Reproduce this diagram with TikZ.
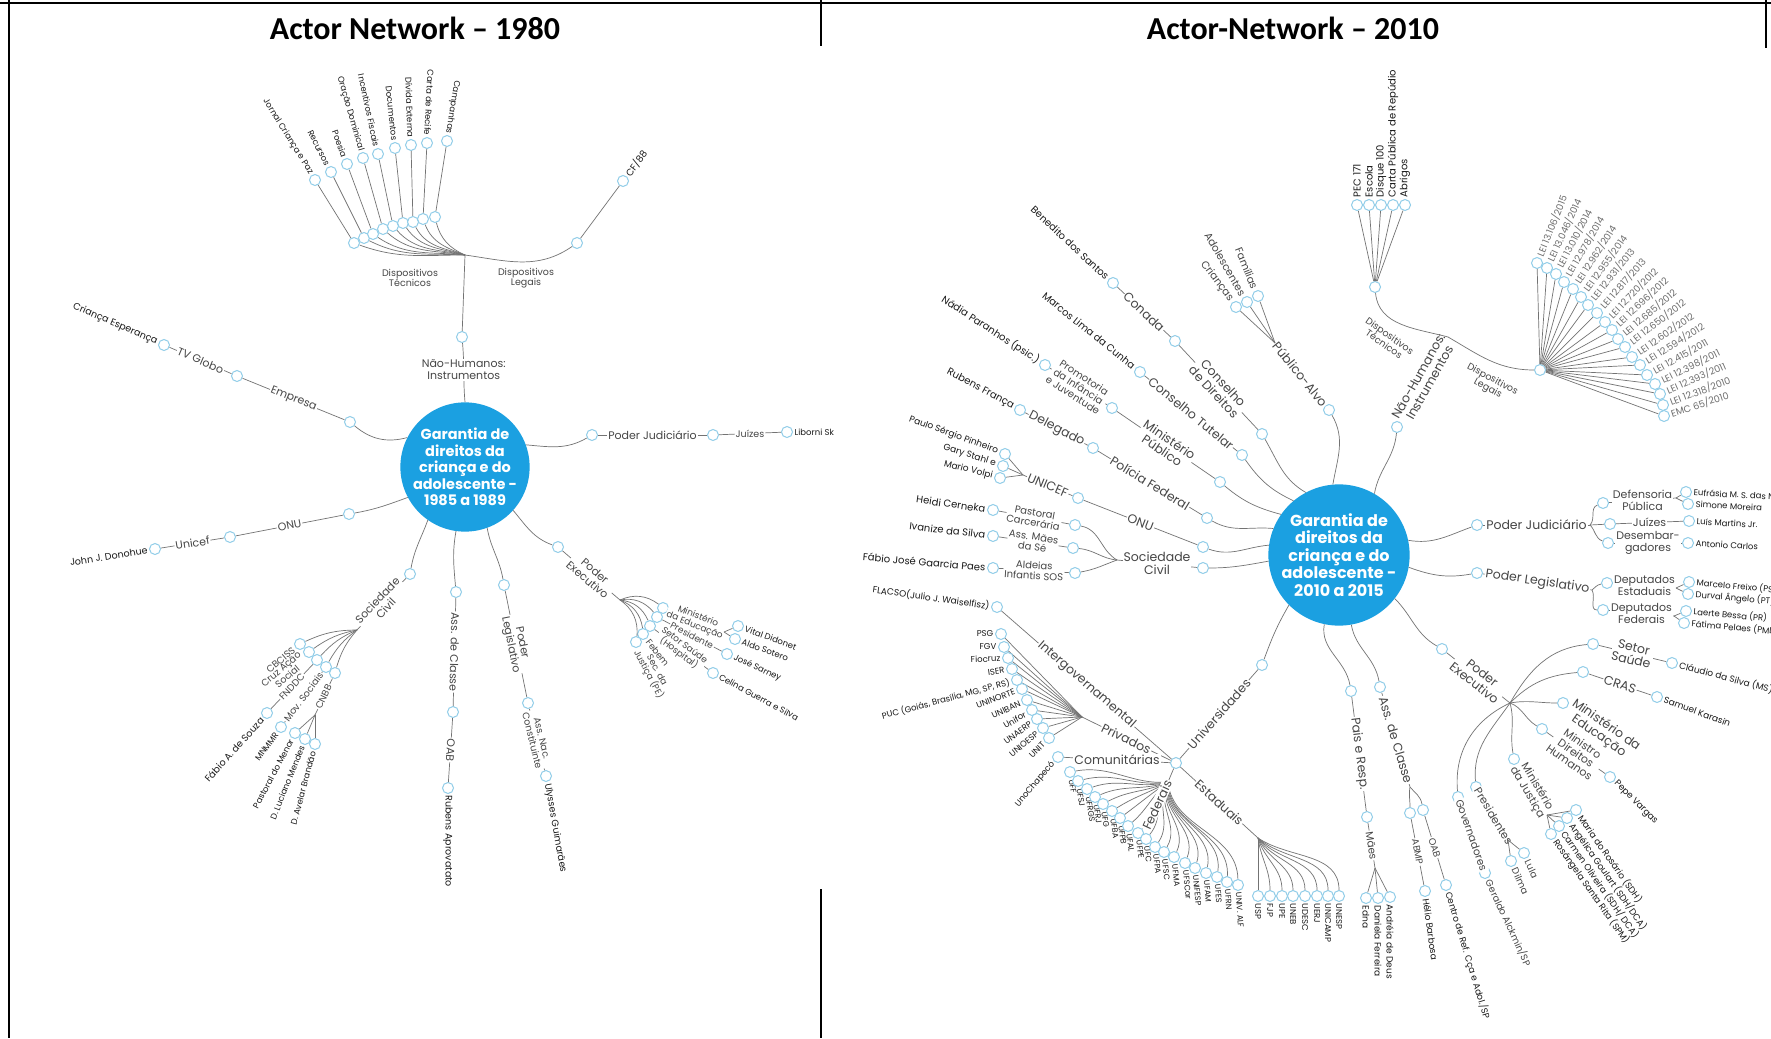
\documentclass[tikz,border=0pt]{standalone}
\usepackage{fontspec}
\usetikzlibrary{calc}
\newfontfamily\gothic{Poppins}
\newfontfamily\hdrfont{Carlito}
\definecolor{corec}{RGB}{27,160,225}
\definecolor{dotc}{RGB}{145,205,232}
\definecolor{linec}{RGB}{115,115,115}
\definecolor{labc}{RGB}{70,70,70}
\definecolor{leafc}{RGB}{25,25,25}
\definecolor{lawc}{RGB}{110,110,110}
\tikzset{
  dot/.style={circle,draw=dotc,fill=white,line width=1pt,minimum size=11pt,inner sep=0pt},
  ln/.style={draw=linec,line width=0.7pt},
  lbl/.style={font=\gothic\fontsize{11}{11.5}\selectfont,text=labc,fill=white,inner sep=1pt,align=center},
  lblr/.style={lbl,font=\gothic\fontsize{12.5}{13}\selectfont},
  lbls/.style={lbl,font=\gothic\fontsize{9.5}{10}\selectfont,fill=none},
  leaf/.style={font=\gothic\fontsize{9.5}{10}\selectfont,text=leafc,inner sep=0.5pt,align=center},
  leafr/.style={font=\gothic\fontsize{10}{10.5}\selectfont,text=leafc,inner sep=0.5pt,align=center},
  uni/.style={font=\gothic\fontsize{8.5}{9}\selectfont,text=leafc,inner sep=0.5pt},
  tiny/.style={font=\gothic\fontsize{9.5}{10}\selectfont,text=lawc,inner sep=0.5pt},
  core/.style={circle,fill=corec,text=white,align=center,inner sep=0pt},
  hdr/.style={font=\hdrfont\bfseries\fontsize{32}{34}\selectfont,inner sep=0pt},
  framerule/.style={draw=black,line width=1.4pt},
}
% label reading away from a dot / label reading towards a dot
\newcommand\lout[4][]{\node[leaf,rotate=#3,anchor=west,#1] (#2-t) at ($(#2)+(#3:7)$) {#4};}
\newcommand\lin[4][]{\node[leaf,rotate=#3,anchor=east,#1] (#2-t) at ($(#2)+({#3+180}:7)$) {#4};}

\begin{document}
\begin{tikzpicture}[x=1pt,y=1pt]
\useasboundingbox (0,0) rectangle (1771,-1038);
\fill[white] (0,0) rectangle (1771,-1038);

% ---------------- table frame and headings ----------------
\draw[framerule,line width=2pt] (0,-3) -- (1771,-3);
\draw[framerule] (9,0) -- (9,-1038);
\draw[framerule] (821,0) -- (821,-46);
\draw[framerule] (821,-889) -- (821,-1038);
\draw[framerule] (1766,0) -- (1766,-48);
\node[hdr] (h1) at (415,-28) {Actor Network – 1980};
\node[hdr] (h2) at (1293,-28) {Actor-Network – 2010};

% =================== 1985-1989 network ===================
\node[core,minimum size=120pt,font=\gothic\bfseries\fontsize{14.5}{16.4}\selectfont] (L) at (465,-467) {Garantia de\\direitos da\\criança e do\\adolescente -\\1985 a 1989};

% non-human instruments
\node[dot] (lnh) at (462,-337) {};
\draw[ln] (L.90) to[out=95,in=-85] node[lbl,pos=0.55] (lnh-e) {Não-Humanos:\\Instrumentos} (lnh);
\coordinate (lTH) at (465,-255);
\draw[ln] (lnh) -- (lTH);
\foreach \i/\ix/\iy/\ox/\oy/\ang/\txt in {
  1/354/243/315/180/-58/{Jornal Criança e Paz},
  2/364/238/331/172/-63/Recursos,
  3/373/234/347/164/-70/Poesia,
  4/383/229/363/158/-74/{Oração Dominical},
  5/393/226/378/154/-78/{Incentivos Fiscais},
  6/403/223/395/148/-84/Documentos,
  7/413/222/411/145/-88/{Dívida Externa},
  8/423/219/427/143/-93/{Carta de Recife},
  9/435/217/447/141/-99/Campanhas}{
  \node[dot] (lti\i) at (\ix,-\iy) {};
  \node[dot] (lto\i) at (\ox,-\oy) {};
  \pgfmathsetmacro\oo{180-(\i-1)*3}
  \pgfmathsetmacro\ii{-20-(\i-1)*7}
  \draw[ln] (lTH) to[out=\oo,in=\ii] (lti\i);
  \draw[ln] (lti\i) -- (lto\i);
  \lin[font=\gothic\fontsize{8.5}{9}\selectfont]{lto\i}{\ang}{\txt}
}
\node[dot] (ldl1) at (577,-243) {};
\node[dot] (ldl2) at (623,-181) {};
\draw[ln] (lTH) to[out=-8,in=215] (ldl1);
\draw[ln] (ldl1) -- (ldl2);
\lout{ldl2}{53}{CF/88}
\node[lbls] (lDT) at (410,-278) {Dispositivos\\Técnicos};
\node[lbls] (lDL) at (526,-278) {Dispositivos\\Legais};

% companies
\node[dot] (le1) at (350,-422) {};
\node[dot] (le2) at (237,-376) {};
\node[dot] (le3) at (164,-345) {};
\draw[ln] (L.153) to[out=195,in=-40] (le1);
\draw[ln] (le1) -- node[lbl,sloped] (le1-e) {Empresa} (le2);
\draw[ln] (le2) -- node[lbl,sloped] (le2-e) {TV Globo} (le3);
\lin{le3}{-23}{Criança Esperança}

% UN
\node[dot] (lo1) at (349,-514) {};
\node[dot] (lo2) at (230,-537) {};
\node[dot] (lo3) at (155,-549) {};
\draw[ln] (L.208) to[out=200,in=10] (lo1);
\draw[ln] (lo1) -- node[lbl,sloped] (lo1-e) {ONU} (lo2);
\draw[ln] (lo2) -- node[lbl,sloped] (lo2-e) {Unicef} (lo3);
\lin{lo3}{9}{John J. Donohue}

% civil society
\node[dot] (ls1) at (410,-574) {};
\draw[ln] (L.235) to[out=250,in=80] (ls1);
\coordinate (lSH) at (357,-630);
\draw[ln] (ls1) -- node[lbl,sloped] (ls1-e) {Sociedade\\Civil} (lSH);
\node[dot] (lcb) at (300,-644) {};
\node[dot] (lcr) at (309,-652) {};
\node[dot] (lfn) at (317,-660) {};
\node[dot] (lmv) at (326,-667) {};
\node[dot] (lcn) at (335,-673) {};
\foreach \n in {lcb,lcr,lfn,lmv,lcn} \draw[ln] (lSH) to[bend right=12] (\n);
\lin[lbls]{lcb}{40}{CBCISS}
\lin[lbls]{lcr}{40}{Cruz Ação\\Social}
\node[dot] (lfa) at (267,-713) {};
\draw[ln] (lfn) -- node[lbl,sloped,font=\gothic\fontsize{9.5}{10}\selectfont] (lfn-e) {FNDDC} (lfa);
\lin{lfa}{48}{Fábio A. de Souza}
\node[dot] (lmn) at (281,-727) {};
\draw[ln] (lmv) -- node[lbl,sloped,font=\gothic\fontsize{9.5}{10}\selectfont] (lmv-e) {Mov. Sociais} (lmn);
\lin[font=\gothic\fontsize{8.5}{9}\selectfont]{lmn}{54}{MNMMR}
\coordinate (lCH) at (315,-715);
\draw[ln] (lcn) -- node[lbl,sloped,font=\gothic\fontsize{9.5}{10}\selectfont] (lcn-e) {CNBB} (lCH);
\node[dot] (lpm) at (295,-733) {};
\node[dot] (ldlm) at (305,-739) {};
\node[dot] (lda) at (315,-744) {};
\foreach \n in {lpm,ldlm,lda} \draw[ln] (lCH) -- (\n);
\lin[font=\gothic\fontsize{8.5}{9}\selectfont]{lpm}{62}{Pastoral do Menor}
\lin[font=\gothic\fontsize{8.5}{9}\selectfont]{ldlm}{68}{D. Luciano Mendes}
\lin[font=\gothic\fontsize{8.5}{9}\selectfont]{lda}{75}{D. Avelar Brandão}

% professional associations
\node[dot] (la1) at (456,-592) {};
\node[dot] (la2) at (453,-712) {};
\node[dot] (la3) at (448,-788) {};
\draw[ln] (L.262) to[out=260,in=95] (la1);
\draw[ln] (la1) -- node[lbl,sloped,allow upside down] (la1-e) {Ass. de Classe} (la2);
\draw[ln] (la2) -- node[lbl,sloped,allow upside down] (la2-e) {OAB} (la3);
\lout{la3}{-90}{Rubens Aprovatato}

% legislative
\node[dot] (lpl1) at (504,-585) {};
\node[dot] (lpl2) at (528,-703) {};
\node[dot] (lpl3) at (546,-776) {};
\draw[ln] (L.290) to[out=-80,in=100] (lpl1);
\draw[ln] (lpl1) -- node[lbl,sloped] (lpl1-e) {Poder\\Legislativo} (lpl2);
\draw[ln] (lpl2) -- node[lbl,sloped,font=\gothic\fontsize{9.5}{10}\selectfont] (lpl2-e) {Ass. Nac.\\Constituinte} (lpl3);
\lout{lpl3}{-80}{Ulysses Guimarães}

% executive
\node[dot] (lpe1) at (558,-547) {};
\draw[ln] (L.318) to[out=-50,in=160] (lpe1);
\coordinate (lPH) at (620,-600);
\draw[ln] (lpe1) -- node[lbl,sloped] (lpe1-e) {Poder\\Executivo} (lPH);
\node[dot] (lme) at (663,-608) {};
\node[dot] (lpr) at (657,-617) {};
\node[dot] (lss) at (650,-626) {};
\node[dot] (lfb) at (643,-634) {};
\node[dot] (lsj) at (636,-642) {};
\foreach \n in {lme,lpr,lss,lfb,lsj} \draw[ln] (lPH) to[bend left=30] (\n);
\coordinate (lMX) at (724,-632);
\draw[ln] (lme) -- node[lbl,sloped,font=\gothic\fontsize{9}{9.5}\selectfont] (lme-e) {Ministério\\da Educação} (lMX);
\node[dot] (lvd) at (738,-626) {};
\node[dot] (las) at (735,-639) {};
\draw[ln] (lMX) -- (lvd);
\draw[ln] (lMX) -- (las);
\lout[font=\gothic\fontsize{8.5}{9}\selectfont]{lvd}{-20}{Vital Didonet}
\lout[font=\gothic\fontsize{8.5}{9}\selectfont]{las}{-20}{Aldo Sotero}
\node[dot] (ljs) at (727,-654) {};
\draw[ln] (lpr) -- node[lbl,sloped,font=\gothic\fontsize{9}{9.5}\selectfont] (lpr-e) {Presidente} (ljs);
\lout[font=\gothic\fontsize{8.5}{9}\selectfont]{ljs}{-25}{José Sarney}
\node[dot] (lcg) at (713,-673) {};
\draw[ln] (lss) -- node[lbl,sloped,font=\gothic\fontsize{9}{9.5}\selectfont] (lss-e) {Setor Saúde\\(Hospital)} (lcg);
\lout[font=\gothic\fontsize{8.5}{9}\selectfont]{lcg}{-28}{Celina Guerra e Silva}
\lout[lbl,fill=none,font=\gothic\fontsize{9}{9.5}\selectfont]{lfb}{-52}{Febem}
\lout[lbl,fill=none,font=\gothic\fontsize{9}{9.5}\selectfont]{lsj}{-62}{Sec. da\\Justiça (PE)}

% judiciary
\node[dot] (lj1) at (592,-435) {};
\node[dot] (lj2) at (713,-435) {};
\node[dot] (lj3) at (787,-432) {};
\draw[ln] (L.20) to[out=-5,in=210] (lj1);
\draw[ln] (lj1) -- node[lbl] (lj1-e) {Poder Judiciário} (lj2);
\draw[ln] (lj2) -- node[lbl,font=\gothic\fontsize{9.5}{10}\selectfont] (lj2-e) {Juízes} (lj3);
\lout[font=\gothic\fontsize{8.5}{9}\selectfont]{lj3}{0}{Liborni Sk}

% =================== 2010-2015 network ===================
\begin{scope}[leaf/.style=leafr]
\node[core,minimum size=127pt,font=\gothic\bfseries\fontsize{16}{17.5}\selectfont] (R) at (1339,-555) {Garantia de\\direitos da\\criança e do\\adolescente -\\2010 a 2015};

% non-human instruments
\node[dot] (rnh) at (1397,-427) {};
\draw[ln] (R.60) to[out=80,in=-95] (rnh);
\coordinate (rNJ) at (1448,-337);
\draw[ln] (rnh) -- node[lblr,sloped] (rnh-e) {Não-Humanos:\\Instrumentos} (rNJ);
\node[dot] (rdt) at (1375,-287) {};
\node[dot] (rdl) at (1540,-370) {};
\draw[ln] (rdt) to[out=-85,in=165] (rNJ);
\draw[ln] (rNJ) to[out=-30,in=180] (rdl);
\node[lbls,rotate=-35] (rDT) at (1387,-340) {Dispositivos\\Técnicos};
\node[lbls,rotate=-28] (rDL) at (1490,-384) {Dispositivos\\Legais};
\foreach \i/\x/\txt in {1/1357/{PEC 171},2/1369/Escola,3/1381/{Disque 100},4/1393/{Carta Pública de Repúdio},5/1405/Abrigos}{
  \node[dot] (rt\i) at (\x,-205) {};
  \draw[ln] (rdt) -- (rt\i);
  \lout{rt\i}{90}{\txt}
}
\foreach \i/\x/\y/\txt in {
  1/1537/263/{LEI 13.106/2015}, 2/1547/268/{LEI 13.046/2014}, 3/1556/274/{LEI 13.010/2014},
  4/1564/282/{LEI 12.978/2014}, 5/1573/289/{LEI 12.962/2014}, 6/1581/297/{LEI 12.955/2014},
  7/1588/305/{LEI 12.931/2013}, 8/1597/313/{LEI 12.817/2013}, 9/1605/322/{LEI 12.720/2012},
  10/1612/330/{LEI 12.696/2012}, 11/1618/339/{LEI 12.685/2012}, 12/1625/347/{LEI 12.650/2012},
  13/1632/357/{LEI 12.602/2012}, 14/1640/365/{LEI 12.594/2012}, 15/1647/375/{LEI 12.415/2011},
  16/1655/384/{LEI 12.398/2011}, 17/1660/394/{LEI 12.393/2011}, 18/1663/405/{LEI 12.318/2010},
  19/1664/416/{EMC 65/2010}}{
  \node[dot] (rl\i) at (\x,-\y) {};
  \draw[ln] (rdl) -- (rl\i);
  \pgfmathsetmacro\ang{68-(\i-1)*50/18}
  \lout[tiny]{rl\i}{\ang}{\txt}
}

% target public
\node[dot] (rpa) at (1329,-410) {};
\draw[ln] (R.95) to[out=80,in=-60] (rpa);
\coordinate (rPH) at (1275,-343);
\draw[ln] (rpa) -- node[lblr,sloped] (rpa-e) {Público-Alvo} (rPH);
\node[dot] (rcr) at (1236,-307) {};
\node[dot] (rad) at (1247,-302) {};
\node[dot] (rfa) at (1258,-296) {};
\foreach \n in {rcr,rad,rfa} \draw[ln] (rPH) -- (\n);
\lin[lbls,font=\gothic\fontsize{10.5}{11}\selectfont]{rcr}{-53}{Crianças}
\lin[lbls,font=\gothic\fontsize{10.5}{11}\selectfont]{rad}{-60}{Adolescentes}
\lin[lbls,font=\gothic\fontsize{10.5}{11}\selectfont]{rfa}{-68}{Famílias}

% rights councils
\node[dot] (rcd1) at (1262,-434) {};
\node[dot] (rcd2) at (1175,-341) {};
\node[dot] (rcd3) at (1113,-283) {};
\draw[ln] (R.118) to[out=150,in=-60] (rcd1);
\draw[ln] (rcd1) -- node[lblr,sloped] (rcd1-e) {Conselho\\de Direitos} (rcd2);
\draw[ln] (rcd2) -- node[lblr,sloped] (rcd2-e) {Conada} (rcd3);
\lin{rcd3}{-43}{Benedito dos Santos}

% guardianship council
\node[dot] (rct1) at (1242,-455) {};
\node[dot] (rct2) at (1140,-372) {};
\draw[ln] (R.130) to[out=155,in=-55] (rct1);
\draw[ln] (rct1) -- node[lblr,sloped] (rct1-e) {Conselho Tutelar} (rct2);
\lin{rct2}{-39}{Marcos Lima da Cunha}

% public prosecution
\node[dot] (rmp1) at (1220,-482) {};
\node[dot] (rmp2) at (1112,-408) {};
\node[dot] (rmp3) at (1045,-365) {};
\draw[ln] (R.145) to[out=165,in=-40] (rmp1);
\draw[ln] (rmp1) -- node[lblr,sloped] (rmp1-e) {Ministério\\Público} (rmp2);
\draw[ln] (rmp2) -- node[lbl,sloped,font=\gothic\fontsize{10}{10.5}\selectfont] (rmp2-e) {Promotoria\\da Infância\\e Juventude} (rmp3);
\lin{rmp3}{-33}{Nádia Paranhos (psic.)}

% federal police
\node[dot] (rpf1) at (1207,-518) {};
\node[dot] (rpf2) at (1093,-448) {};
\node[dot] (rpf3) at (1020,-410) {};
\draw[ln] (R.158) to[out=175,in=-30] (rpf1);
\draw[ln] (rpf1) -- node[lblr,sloped] (rpf1-e) {Polícia Federal} (rpf2);
\draw[ln] (rpf2) -- node[lblr,sloped] (rpf2-e) {Delegado} (rpf3);
\lin{rpf3}{-28}{Rubens França}

% UN
\node[dot] (ron1) at (1203,-547) {};
\node[dot] (ron2) at (1078,-498) {};
\draw[ln] (R.172) to[out=185,in=-20] (ron1);
\draw[ln] (ron1) -- node[lblr,sloped] (ron1-e) {ONU} (ron2);
\coordinate (rUH) at (1023,-475);
\draw[ln] (ron2) -- node[lblr,sloped] (ron2-e) {UNICEF} (rUH);
\node[dot] (rps) at (1005,-454) {};
\node[dot] (rgs) at (1003,-466) {};
\node[dot] (rmv) at (1000,-478) {};
\foreach \n in {rps,rgs,rmv} \draw[ln] (rUH) -- (\n);
\lin[font=\gothic\fontsize{9}{9.5}\selectfont]{rps}{-20}{Paulo Sérgio Pinheiro}
\lin[font=\gothic\fontsize{9}{9.5}\selectfont]{rgs}{-17}{Gary Stahl e}
\lin[font=\gothic\fontsize{9}{9.5}\selectfont]{rmv}{-14}{Mario Volpi}

% civil society
\node[dot] (rsc1) at (1203,-568) {};
\draw[ln] (R.185) to[out=190,in=0] (rsc1);
\coordinate (rSH) at (1117,-560);
\draw[ln] (rsc1) -- node[lblr] (rsc1-e) {Sociedade\\Civil} (rSH);
\node[dot] (rpc) at (1075,-525) {};
\node[dot] (ram) at (1073,-548) {};
\node[dot] (rai) at (1075,-573) {};
\draw[ln] (rSH) to[out=150,in=-10] (rpc);
\draw[ln] (rSH) to[out=175,in=-5] (ram);
\draw[ln] (rSH) to[out=200,in=10] (rai);
\node[dot] (rhc) at (993,-510) {};
\node[dot] (ris) at (993,-536) {};
\node[dot] (rfj) at (993,-568) {};
\draw[ln] (rpc) -- node[lbl,sloped,font=\gothic\fontsize{10}{10.5}\selectfont] (rpc-e) {Pastoral\\Carcerária} (rhc);
\draw[ln] (ram) -- node[lbl,sloped,font=\gothic\fontsize{10}{10.5}\selectfont] (ram-e) {Ass. Mães\\da Sé} (ris);
\draw[ln] (rai) -- node[lbl,sloped,font=\gothic\fontsize{10}{10.5}\selectfont] (rai-e) {Aldeias\\Infantis SOS} (rfj);
\lin{rhc}{-8}{Heidi Cerneka}
\lin{ris}{-7}{Ivanize da Silva}
\lin{rfj}{-5}{Fábio José Gaarcia Paes}

% universities
\node[dot] (run1) at (1262,-665) {};
\draw[ln] (R.225) to[out=240,in=70] (run1);
\node[dot] (rUH2) at (1176,-763) {};
\draw[ln] (run1) -- node[lblr,sloped] (run1-e) {Universidades} (rUH2);
\node[dot] (rfl) at (997,-607) {};
\draw[ln] (rUH2) -- node[lblr,sloped] (rfl-e) {Intergovernamental} (rfl);
\lin[font=\gothic\fontsize{9}{9.5}\selectfont]{rfl}{-8}{FLACSO(Julio J. Waiselfisz)}
\coordinate (rPV) at (1082,-717);
\draw[ln] (rUH2) -- node[lblr,sloped] (rPV-e) {Privados} (rPV);
\foreach \i/\x/\y/\ang/\txt in {1/1001/634/0/PSG, 2/1004/647/0/FGV, 3/1008/658/2/Fiocruz, 4/1012/669/8/ISER,
  5/1017/680/15/{PUC (Goiás, Brasília, MG, SP, RS)}, 6/1022/689/20/UNINORTE, 7/1027/700/25/UNIBAN,
  8/1032/710/30/Unifor, 9/1037/719/36/UNAERP, 10/1043/728/40/UNIOESP, 11/1049/738/45/UNIT}{
  \node[dot] (rpriv\i) at (\x,-\y) {};
  \draw[ln] (rPV) -- (rpriv\i);
  \lin[uni]{rpriv\i}{\ang}{\txt}
}
\node[dot] (ruc) at (1058,-757) {};
\draw[ln] (rUH2) -- node[lblr] (ruc-e) {Comunitárias} (ruc);
\lin[uni]{ruc}{50}{UnoChapecó}
\coordinate (rFH) at (1168,-782);
\draw[ln] (rUH2) -- (rFH);
\foreach \i/\x/\y/\txt in {1/1070/772/UFF, 2/1078/781/UFSJ, 3/1087/789/UFRGS, 4/1095/797/UFRJ,
  5/1103/804/UFG, 6/1112/811/UFBA, 7/1120/818/UFPB, 8/1128/826/UFAL, 9/1138/833/UFPE,
  10/1146/839/UFC, 11/1155/847/UFPA, 12/1164/852/UFSC, 13/1174/857/UFMA, 14/1185/863/UFSCar,
  15/1195/868/UNIFESP, 16/1206/873/UFAM, 17/1217/877/UFES, 18/1227/882/UFRN, 19/1238/885/{UNIV. ALF}}{
  \node[dot] (rfed\i) at (\x,-\y) {};
  \pgfmathsetmacro\oo{185+(\i-1)*5}
  \pgfmathsetmacro\ii{10+(\i-1)*4.5}
  \draw[ln] (rFH) to[out=\oo,in=\ii] (rfed\i);
  \pgfmathsetmacro\ang{-80-(\i-1)*6/18}
  \lout[uni,font=\gothic\fontsize{8}{8.5}\selectfont]{rfed\i}{\ang}{\txt}
}
\node[lblr,rotate=65] (rFL) at (1157,-805) {Federais};
\coordinate (rEH) at (1258,-838);
\draw[ln] (rUH2) -- node[lblr,sloped] (rEH-e) {Estaduais} (rEH);
\foreach \i/\x/\txt in {1/1258/USP, 2/1270/FJP, 3/1282/UPE, 4/1293/UNEB, 5/1305/UDESC, 6/1317/UERJ, 7/1328/UNICAMP, 8/1339/UNESP}{
  \node[dot] (rest\i) at (\x,-896) {};
  \pgfmathsetmacro\oo{-90+(\i-1)*8}
  \draw[ln] (rEH) to[out=\oo,in=90] (rest\i);
  \lout[uni]{rest\i}{-90}{\txt}
}

% parents
\node[dot] (rpr1) at (1351,-691) {};
\node[dot] (rpr2) at (1367,-817) {};
\draw[ln] (R.258) to[out=-100,in=100] (rpr1);
\draw[ln] (rpr1) -- node[lblr,sloped] (rpr1-e) {Pais e Resp.} (rpr2);
\coordinate (rMH) at (1375,-868);
\draw[ln] (rpr2) -- node[lblr,sloped,font=\gothic\fontsize{10.5}{11}\selectfont] (rpr2-e) {Mães} (rMH);
\node[dot] (redn) at (1366,-898) {};
\node[dot] (rdfe) at (1378,-898) {};
\node[dot] (radd) at (1390,-897) {};
\foreach \n in {redn,rdfe,radd} \draw[ln] (rMH) -- (\n);
\lout[font=\gothic\fontsize{9}{9.5}\selectfont]{redn}{-90}{Edna}
\lout[font=\gothic\fontsize{9}{9.5}\selectfont]{rdfe}{-90}{Daniela Ferreira}
\lout[font=\gothic\fontsize{9}{9.5}\selectfont]{radd}{-90}{Andréia de Deus}

% professional associations
\node[dot] (rac1) at (1380,-687) {};
\draw[ln] (R.280) to[out=-80,in=100] (rac1);
\coordinate (rAH) at (1410,-787);
\draw[ln] (rac1) -- node[lblr,sloped] (rac1-e) {Ass. de Classe} (rAH);
\node[dot] (rab) at (1410,-813) {};
\node[dot] (roa) at (1423,-810) {};
\draw[ln] (rAH) to[out=-100,in=90] (rab);
\draw[ln] (rAH) to[out=-50,in=100] (roa);
\node[dot] (rhb) at (1425,-891) {};
\node[dot] (rcrf) at (1446,-885) {};
\draw[ln] (rab) -- node[lbl,sloped,font=\gothic\fontsize{9.5}{10}\selectfont] (rab-e) {ABMP} (rhb);
\draw[ln] (roa) -- node[lbl,sloped,font=\gothic\fontsize{9.5}{10}\selectfont] (roa-e) {OAB} (rcrf);
\lout[font=\gothic\fontsize{9}{9.5}\selectfont]{rhb}{-82}{Hélio Barbosa}
\lout[font=\gothic\fontsize{9}{9.5}\selectfont]{rcrf}{-73}{Centro de Ref. Cça e Adol./SP}

% executive
\node[dot] (rpe1) at (1442,-649) {};
\draw[ln] (R.322) to[out=-45,in=150] (rpe1);
\coordinate (rXH) at (1510,-703);
\draw[ln] (rpe1) -- node[lblr,sloped] (rpe1-e) {Poder\\Executivo} (rXH);
\node[dot] (rss) at (1593,-644) {};
\node[dot] (rcs) at (1672,-663) {};
\draw[ln] (rXH) to[out=60,in=185] (rss);
\draw[ln] (rss) -- node[lblr,sloped] (rss-e) {Setor\\Saúde} (rcs);
\lout[font=\gothic\fontsize{9}{9.5}\selectfont]{rcs}{-15}{Cláudio da Silva (MS)}
\node[dot] (rcra) at (1583,-672) {};
\node[dot] (rsk) at (1657,-697) {};
\draw[ln] (rXH) to[out=45,in=185] (rcra);
\draw[ln] (rcra) -- node[lblr,sloped] (rcra-e) {CRAS} (rsk);
\lout[font=\gothic\fontsize{9}{9.5}\selectfont]{rsk}{-20}{Samuel Karasin}
\node[dot] (rmed) at (1563,-703) {};
\draw[ln] (rXH) to[out=10,in=180] (rmed);
\lout[lblr,fill=none]{rmed}{-35}{Ministério da\\Educação}
\node[dot] (rmdh) at (1542,-729) {};
\node[dot] (rpv) at (1610,-777) {};
\draw[ln] (rXH) to[out=-20,in=150] (rmdh);
\draw[ln] (rmdh) -- node[lblr,sloped,font=\gothic\fontsize{11}{11.5}\selectfont] (rmdh-e) {Ministro\\Direitos\\Humanos} (rpv);
\lout[font=\gothic\fontsize{9}{9.5}\selectfont]{rpv}{-45}{Pepe Vargas}
\node[dot] (rmj) at (1514,-759) {};
\draw[ln] (rXH) to[out=-75,in=100] (rmj);
\coordinate (rJH) at (1547,-815);
\draw[ln] (rmj) -- node[lblr,sloped,font=\gothic\fontsize{11}{11.5}\selectfont] (rmj-e) {Ministério\\da Justiça} (rJH);
\foreach \i/\x/\y/\txt in {1/1576/810/{Maria do Rosário (SDH)}, 2/1567/818/{Angélica Goulart (SDH/DCA)},
  3/1559/826/{Carmen Oliveira (SDH/ DCA)}, 4/1551/834/{Rosângela Santa Rita (SPM)}}{
  \node[dot] (rmjn\i) at (\x,-\y) {};
  \draw[ln] (rJH) -- (rmjn\i);
  \lout[font=\gothic\fontsize{9}{9.5}\selectfont]{rmjn\i}{-55}{\txt}
}
\node[dot] (rpres) at (1476,-787) {};
\draw[ln] (rXH) to[out=235,in=95] (rpres);
\coordinate (rPRH) at (1508,-840);
\draw[ln] (rpres) -- node[lblr,sloped,font=\gothic\fontsize{11}{11.5}\selectfont] (rpres-e) {Presidentes} (rPRH);
\node[dot] (rlu) at (1524,-853) {};
\node[dot] (rdi) at (1511,-861) {};
\draw[ln] (rPRH) -- (rlu);
\draw[ln] (rPRH) -- (rdi);
\lout[lbls]{rlu}{-65}{Lula}
\lout[lbls]{rdi}{-65}{Dilma}
\node[dot] (rgov) at (1458,-797) {};
\draw[ln] (rXH) to[out=205,in=95] (rgov);
\node[dot] (rga) at (1485,-873) {};
\draw[ln] (rgov) -- node[lblr,sloped,font=\gothic\fontsize{10.5}{11}\selectfont] (rgov-e) {Governadores} (rga);
\lout[lbls]{rga}{-65}{Geraldo Alckmin/SP}

% legislative
\node[dot] (rpl1) at (1477,-573) {};
\draw[ln] (R.350) to[out=-20,in=190] (rpl1);
\coordinate (rLH) at (1592,-590);
\draw[ln] (rpl1) -- node[lblr,sloped] (rpl1-e) {Poder Legislativo} (rLH);
\node[dot] (rde) at (1607,-583) {};
\node[dot] (rdf) at (1603,-610) {};
\draw[ln] (rLH) to[out=40,in=190] (rde);
\draw[ln] (rLH) to[out=-60,in=180] (rdf);
\node[dot] (rmf) at (1689,-582) {};
\node[dot] (rda) at (1688,-594) {};
\node[dot] (rlb) at (1686,-611) {};
\node[dot] (rfp) at (1684,-623) {};
\coordinate (rDEx) at (1676,-588);
\coordinate (rDFx) at (1674,-616);
\draw[ln] (rde) -- node[lbl] (rde-e) {Deputados\\Estaduais} (rDEx);
\draw[ln] (rdf) -- node[lbl] (rdf-e) {Deputados\\Federais} (rDFx);
\draw[ln] (rDEx) -- (rmf); \draw[ln] (rDEx) -- (rda);
\draw[ln] (rDFx) -- (rlb); \draw[ln] (rDFx) -- (rfp);
\lout[font=\gothic\fontsize{8.5}{9}\selectfont]{rmf}{-5}{Marcelo Freixo (PSOL)}
\lout[font=\gothic\fontsize{8.5}{9}\selectfont]{rda}{-5}{Durval Ângelo (PT)}
\lout[font=\gothic\fontsize{8.5}{9}\selectfont]{rlb}{-5}{Laerte Bessa (PR)}
\lout[font=\gothic\fontsize{8.5}{9}\selectfont]{rfp}{-5}{Fátima Pelaes (PMDB)}

% judiciary
\node[dot] (rpj1) at (1477,-525) {};
\draw[ln] (R.12) to[out=-10,in=200] (rpj1);
\coordinate (rJJ) at (1590,-525);
\draw[ln] (rpj1) -- node[lblr] (rpj1-e) {Poder Judiciário} (rJJ);
\node[dot] (rdp) at (1603,-503) {};
\node[dot] (rjz) at (1610,-524) {};
\node[dot] (rdb) at (1608,-543) {};
\draw[ln] (rJJ) to[out=45,in=200] (rdp);
\draw[ln] (rJJ) -- (rjz);
\draw[ln] (rJJ) to[out=-45,in=160] (rdb);
\coordinate (rDPx) at (1676,-498);
\node[dot] (ref) at (1686,-492) {};
\node[dot] (rsm) at (1688,-504) {};
\draw[ln] (rdp) -- node[lbl] (rdp-e) {Defensoria\\Pública} (rDPx);
\draw[ln] (rDPx) -- (ref); \draw[ln] (rDPx) -- (rsm);
\lout[font=\gothic\fontsize{8.5}{9}\selectfont]{ref}{-3}{Eufrásia M. S. das Neves}
\lout[font=\gothic\fontsize{8.5}{9}\selectfont]{rsm}{-3}{Simone Moreira}
\node[dot] (rlm) at (1689,-521) {};
\draw[ln] (rjz) -- node[lbl] (rjz-e) {Juízes} (rlm);
\lout[font=\gothic\fontsize{8.5}{9}\selectfont]{rlm}{-3}{Luís Martins Jr.}
\node[dot] (rac) at (1688,-543) {};
\draw[ln] (rdb) -- node[lbl] (rdb-e) {Desembar-\\gadores} (rac);
\lout[font=\gothic\fontsize{8.5}{9}\selectfont]{rac}{-3}{Antonio Carlos}
\end{scope}

\end{tikzpicture}
\end{document}
